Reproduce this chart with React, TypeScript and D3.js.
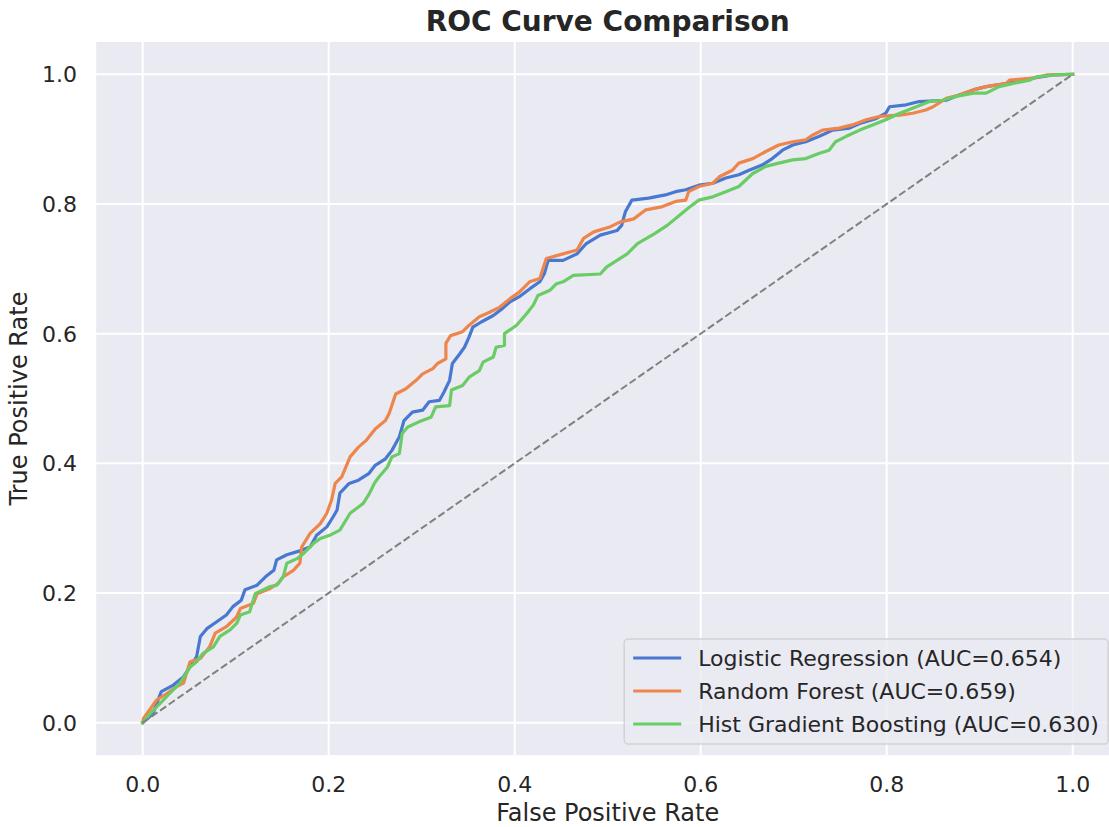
import React from 'react';
import * as d3 from 'd3';

// ROC points, [fpr, tpr]
const logisticRoc: [number, number][] = [
  [0, 0], [0.011, 0.014], [0.02, 0.048], [0.033, 0.058], [0.044, 0.071], [0.058, 0.102], [0.062, 0.133],
  [0.069, 0.145], [0.08, 0.156], [0.09, 0.166], [0.097, 0.179], [0.106, 0.189], [0.11, 0.205], [0.123, 0.212],
  [0.132, 0.225], [0.141, 0.235], [0.144, 0.251], [0.155, 0.259], [0.169, 0.265], [0.18, 0.271], [0.187, 0.289],
  [0.198, 0.302], [0.205, 0.318], [0.209, 0.328], [0.212, 0.354], [0.222, 0.369], [0.232, 0.374], [0.243, 0.384],
  [0.25, 0.397], [0.261, 0.407], [0.268, 0.42], [0.276, 0.441], [0.281, 0.466], [0.29, 0.479], [0.301, 0.482],
  [0.308, 0.495], [0.319, 0.497], [0.324, 0.51], [0.33, 0.528], [0.333, 0.554], [0.341, 0.569], [0.346, 0.579],
  [0.351, 0.595], [0.355, 0.61], [0.364, 0.618], [0.377, 0.628], [0.387, 0.639], [0.395, 0.649], [0.405, 0.657],
  [0.416, 0.669], [0.427, 0.68], [0.432, 0.693], [0.436, 0.713], [0.452, 0.713], [0.467, 0.723], [0.477, 0.739],
  [0.492, 0.752], [0.51, 0.759], [0.515, 0.767], [0.519, 0.788], [0.526, 0.806], [0.544, 0.809], [0.562, 0.814],
  [0.573, 0.819], [0.584, 0.822], [0.598, 0.829], [0.613, 0.832], [0.627, 0.84], [0.641, 0.845], [0.652, 0.852],
  [0.666, 0.86], [0.677, 0.87], [0.688, 0.883], [0.699, 0.891], [0.713, 0.896], [0.727, 0.904], [0.742, 0.914],
  [0.76, 0.917], [0.771, 0.924], [0.789, 0.932], [0.799, 0.94], [0.803, 0.95], [0.821, 0.953], [0.835, 0.958],
  [0.864, 0.96], [0.878, 0.968], [0.893, 0.976], [0.907, 0.981], [0.921, 0.984], [0.943, 0.991], [0.957, 0.994],
  [0.979, 0.999], [1, 1],
];

const forestRoc: [number, number][] = [
  [0, 0], [0.001, 0.007], [0.015, 0.035], [0.026, 0.045], [0.037, 0.056], [0.044, 0.061], [0.047, 0.076],
  [0.051, 0.094], [0.062, 0.099], [0.072, 0.117], [0.078, 0.138], [0.09, 0.148], [0.101, 0.163], [0.105, 0.176],
  [0.119, 0.184], [0.123, 0.199], [0.137, 0.207], [0.146, 0.215], [0.151, 0.225], [0.162, 0.235], [0.169, 0.246],
  [0.171, 0.271], [0.18, 0.292], [0.191, 0.307], [0.198, 0.323], [0.203, 0.343], [0.207, 0.369], [0.214, 0.379],
  [0.223, 0.41], [0.232, 0.425], [0.24, 0.435], [0.25, 0.453], [0.261, 0.466], [0.265, 0.477], [0.272, 0.507],
  [0.283, 0.515], [0.294, 0.528], [0.301, 0.538], [0.312, 0.546], [0.317, 0.554], [0.326, 0.561], [0.326, 0.585],
  [0.331, 0.597], [0.344, 0.603], [0.351, 0.613], [0.362, 0.626], [0.373, 0.633], [0.384, 0.641], [0.395, 0.654],
  [0.405, 0.664], [0.416, 0.68], [0.427, 0.685], [0.434, 0.716], [0.452, 0.723], [0.467, 0.729], [0.474, 0.747],
  [0.485, 0.757], [0.503, 0.765], [0.513, 0.772], [0.528, 0.777], [0.541, 0.791], [0.559, 0.796], [0.573, 0.804],
  [0.584, 0.806], [0.587, 0.819], [0.598, 0.827], [0.613, 0.832], [0.62, 0.842], [0.634, 0.852], [0.641, 0.863],
  [0.656, 0.87], [0.67, 0.881], [0.684, 0.891], [0.699, 0.896], [0.713, 0.899], [0.72, 0.906], [0.731, 0.914],
  [0.749, 0.917], [0.763, 0.922], [0.778, 0.93], [0.792, 0.935], [0.814, 0.937], [0.828, 0.94], [0.842, 0.945],
  [0.85, 0.95], [0.864, 0.963], [0.878, 0.968], [0.893, 0.976], [0.907, 0.981], [0.929, 0.986], [0.932, 0.991],
  [0.957, 0.994], [0.972, 0.999], [1, 1],
];

const histGbRoc: [number, number][] = [
  [0, 0], [0.008, 0.014], [0.019, 0.03], [0.029, 0.045], [0.04, 0.061], [0.046, 0.074], [0.051, 0.086],
  [0.058, 0.094], [0.065, 0.107], [0.076, 0.117], [0.083, 0.133], [0.094, 0.143], [0.101, 0.153], [0.105, 0.166],
  [0.115, 0.171], [0.121, 0.199], [0.137, 0.21], [0.144, 0.212], [0.151, 0.225], [0.155, 0.246], [0.166, 0.253],
  [0.173, 0.261], [0.184, 0.277], [0.191, 0.284], [0.201, 0.289], [0.212, 0.297], [0.223, 0.323], [0.237, 0.338],
  [0.244, 0.354], [0.249, 0.369], [0.254, 0.379], [0.263, 0.394], [0.268, 0.41], [0.276, 0.415], [0.279, 0.446],
  [0.285, 0.456], [0.297, 0.464], [0.31, 0.471], [0.315, 0.487], [0.33, 0.489], [0.332, 0.513], [0.344, 0.52],
  [0.351, 0.533], [0.362, 0.543], [0.366, 0.556], [0.377, 0.564], [0.38, 0.579], [0.389, 0.582], [0.389, 0.6],
  [0.402, 0.613], [0.413, 0.631], [0.42, 0.644], [0.425, 0.659], [0.438, 0.667], [0.445, 0.677], [0.452, 0.68],
  [0.463, 0.69], [0.492, 0.692], [0.499, 0.703], [0.51, 0.713], [0.521, 0.723], [0.532, 0.739], [0.55, 0.754],
  [0.564, 0.767], [0.575, 0.78], [0.586, 0.793], [0.598, 0.806], [0.613, 0.811], [0.627, 0.819], [0.641, 0.827],
  [0.656, 0.847], [0.67, 0.858], [0.684, 0.863], [0.699, 0.868], [0.713, 0.87], [0.727, 0.878], [0.738, 0.883],
  [0.745, 0.896], [0.756, 0.904], [0.771, 0.914], [0.789, 0.924], [0.799, 0.93], [0.814, 0.94], [0.832, 0.95],
  [0.846, 0.958], [0.86, 0.96], [0.875, 0.966], [0.893, 0.971], [0.907, 0.971], [0.921, 0.981], [0.936, 0.986],
  [0.954, 0.991], [0.961, 0.996], [0.979, 0.999], [1, 1],
];

const modelNames = [
  'Logistic Regression (AUC=0.654)',
  'Random Forest (AUC=0.659)',
  'Hist Gradient Boosting (AUC=0.630)',
];
const modelCurves = [logisticRoc, forestRoc, histGbRoc];
const modelColors = ['#4878d0', '#ee854a', '#6acc64'];
const tickValues = [0, 0.2, 0.4, 0.6, 0.8, 1.0];

const W = 1109;
const H = 827;
const font = '"DejaVu Sans", sans-serif';
const textColor = '#262626';

export default function App() {
  // plot area spans [-0.05, 1.05] on both axes, like matplotlib's default margins
  const left = 96.2;
  const right = 1119.2;
  const top = 41.9;
  const bottom = 755.1;

  const x = d3.scaleLinear().domain([-0.05, 1.05]).range([left, right]);
  const y = d3.scaleLinear().domain([-0.05, 1.05]).range([bottom, top]);

  const line = d3.line<[number, number]>()
    .x((d) => x(d[0]))
    .y((d) => y(d[1]));

  // legend box (lower right)
  const legRight = right - 11;
  const legBottom = bottom - 11;
  const legW = 484;
  const legH = 105;
  const legLeft = legRight - legW;
  const legTop = legBottom - legH;

  return (
    <svg
      width={W}
      height={H}
      style={{ position: 'absolute', left: 0, top: 0, background: '#fff' }}
      fontFamily={font}
    >
      <defs>
        <clipPath id="plot-clip">
          <rect x={left} y={top} width={right - left} height={bottom - top} />
        </clipPath>
      </defs>

      <rect x={left} y={top} width={right - left} height={bottom - top} fill="#eaeaf2" />

      {/* grid */}
      {tickValues.map((t) => (
        <g key={`g${t}`}>
          <line x1={x(t)} x2={x(t)} y1={top} y2={bottom} stroke="#fff" strokeWidth={2} />
          <line x1={left} x2={right} y1={y(t)} y2={y(t)} stroke="#fff" strokeWidth={2} />
        </g>
      ))}

      {/* curves */}
      <g clipPath="url(#plot-clip)">
        {modelCurves.map((c, i) => (
          <path
            key={modelNames[i]}
            d={line(c) || ''}
            fill="none"
            stroke={modelColors[i]}
            strokeWidth={3.2}
            strokeLinejoin="round"
            strokeLinecap="square"
          />
        ))}
        <path
          d={line([[0, 0], [1, 1]]) || ''}
          fill="none"
          stroke="#808080"
          strokeWidth={2}
          strokeDasharray="7.4 3.2"
        />
      </g>

      {/* tick labels */}
      {tickValues.map((t) => (
        <text
          key={`xt${t}`}
          x={x(t)}
          y={792}
          textAnchor="middle"
          fontSize={22}
          fill={textColor}
        >
          {t.toFixed(1)}
        </text>
      ))}
      {tickValues.map((t) => (
        <text
          key={`yt${t}`}
          x={77}
          y={y(t) + 8}
          textAnchor="end"
          fontSize={22}
          fill={textColor}
        >
          {t.toFixed(1)}
        </text>
      ))}

      {/* axis labels and title */}
      <text x={(left + right) / 2} y={821} textAnchor="middle" fontSize={24} fill={textColor}>
        False Positive Rate
      </text>
      <text
        transform={`translate(27,${(top + bottom) / 2}) rotate(-90)`}
        textAnchor="middle"
        fontSize={24}
        fill={textColor}
      >
        True Positive Rate
      </text>
      <text
        x={(left + right) / 2}
        y={31}
        textAnchor="middle"
        fontSize={28}
        fontWeight="bold"
        fill={textColor}
      >
        ROC Curve Comparison
      </text>

      {/* legend */}
      <rect
        x={legLeft}
        y={legTop}
        width={legW}
        height={legH}
        rx={4}
        fill="#eaeaf2"
        fillOpacity={0.8}
        stroke="#cccccc"
        strokeOpacity={0.8}
        strokeWidth={1.5}
      />
      {modelNames.map((name, i) => {
        const ly = legTop + 19 + i * 33;
        return (
          <g key={`leg${name}`}>
            <line
              x1={legLeft + 9}
              x2={legLeft + 57}
              y1={ly}
              y2={ly}
              stroke={modelColors[i]}
              strokeWidth={3}
            />
            <text x={legLeft + 74} y={ly + 8} fontSize={22} fill={textColor}>
              {name}
            </text>
          </g>
        );
      })}
    </svg>
  );
}
